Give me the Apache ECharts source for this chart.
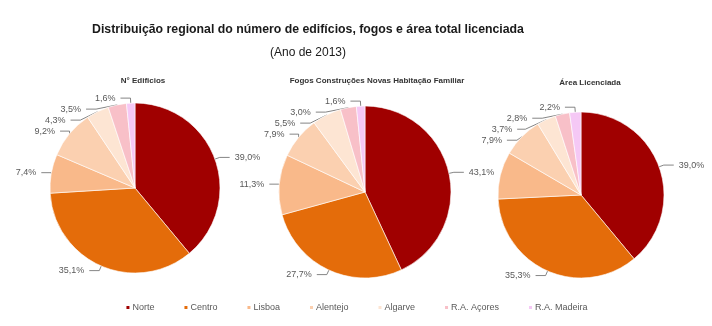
<!DOCTYPE html>
<html lang="pt">
<head>
    <meta charset="UTF-8">
    <title>Distribuição regional</title>
    <script type="text/javascript" src="https://cdn.jsdelivr.net/npm/echarts@6/dist/echarts.min.js"></script>
    <style>
        html, body { margin: 0; padding: 0; background: #fff; }
    </style>
</head>
<body>
<div id="chart" style="width: 712px;height: 326px"></div>
<script type="text/javascript">
    // dados
    var regioes = ['Norte', 'Centro', 'Lisboa', 'Alentejo', 'Algarve', 'R.A. Açores', 'R.A. Madeira'];
    var cores = ['#a00000', '#e46c0a', '#f9b98a', '#fbd0b0', '#fde5d3', '#f8c0c8', '#f5c8f5'];
    var edificios = [39.0, 35.1, 7.4, 9.2, 4.3, 3.5, 1.6];
    var fogos = [43.1, 27.7, 11.3, 7.9, 5.5, 3.0, 1.6];
    var area = [39.0, 35.3, 9.2, 7.9, 3.7, 2.8, 2.2];
    var titulos = ['N° Edificios', 'Fogos Construções Novas Habitação Familiar', 'Área Licenciada'];

    function dados(valores) {
        return regioes.map(function (r, i) {
            return {name: r, value: valores[i]};
        });
    }

    function serie(valores, centro, raio) {
        return {
            type: 'pie',
            center: centro,
            radius: raio,
            startAngle: 90,
            clockwise: true,
            avoidLabelOverlap: true,
            itemStyle: {borderColor: '#fff', borderWidth: 0.6},
            label: {
                color: '#595959',
                fontSize: 9,
                fontFamily: 'Liberation Sans',
                overflow: 'none',
                formatter: function (p) {
                    return p.value.toFixed(1).replace('.', ',') + '%';
                }
            },
            labelLine: {length: 5, length2: 10, lineStyle: {color: '#666', width: 0.8}},
            emphasis: {disabled: true},
            data: dados(valores)
        };
    }

    var myChart = echarts.init(document.getElementById('chart'));
    var option = {
        color: cores,
        animation: false,
        title: [
            {text: 'Distribuição regional do número de edifícios, fogos e área total licenciada',
                left: 303, top: 19, textAlign: 'center',
                textStyle: {fontSize: 12.3, fontWeight: 'bold', color: '#1a1a1a', fontFamily: 'Liberation Sans'}},
            {text: '(Ano de 2013)', left: 303, top: 42, textAlign: 'center',
                textStyle: {fontSize: 12, fontWeight: 'normal', color: '#1a1a1a', fontFamily: 'Liberation Sans'}},
            {text: titulos[0], left: 138, top: 72, textAlign: 'center',
                textStyle: {fontSize: 8, fontWeight: 'bold', color: '#333', fontFamily: 'Liberation Sans'}},
            {text: titulos[1], left: 372, top: 72, textAlign: 'center',
                textStyle: {fontSize: 8, fontWeight: 'bold', color: '#333', fontFamily: 'Liberation Sans'}},
            {text: titulos[2], left: 585, top: 74, textAlign: 'center',
                textStyle: {fontSize: 8, fontWeight: 'bold', color: '#333', fontFamily: 'Liberation Sans'}}
        ],
        legend: {
            data: regioes,
            bottom: 9,
            left: 'center',
            itemWidth: 5,
            itemHeight: 5,
            itemGap: 28,
            icon: 'rect',
            textStyle: {fontSize: 9, color: '#595959', fontFamily: 'Liberation Sans', padding: [0, 0, 0, -3]}
        },
        series: [
            serie(edificios, [135, 188], 85),
            serie(fogos, [365, 192], 86),
            serie(area, [581, 195], 83)
        ]
    };
    myChart.setOption(option);
</script>
</body>
</html>
